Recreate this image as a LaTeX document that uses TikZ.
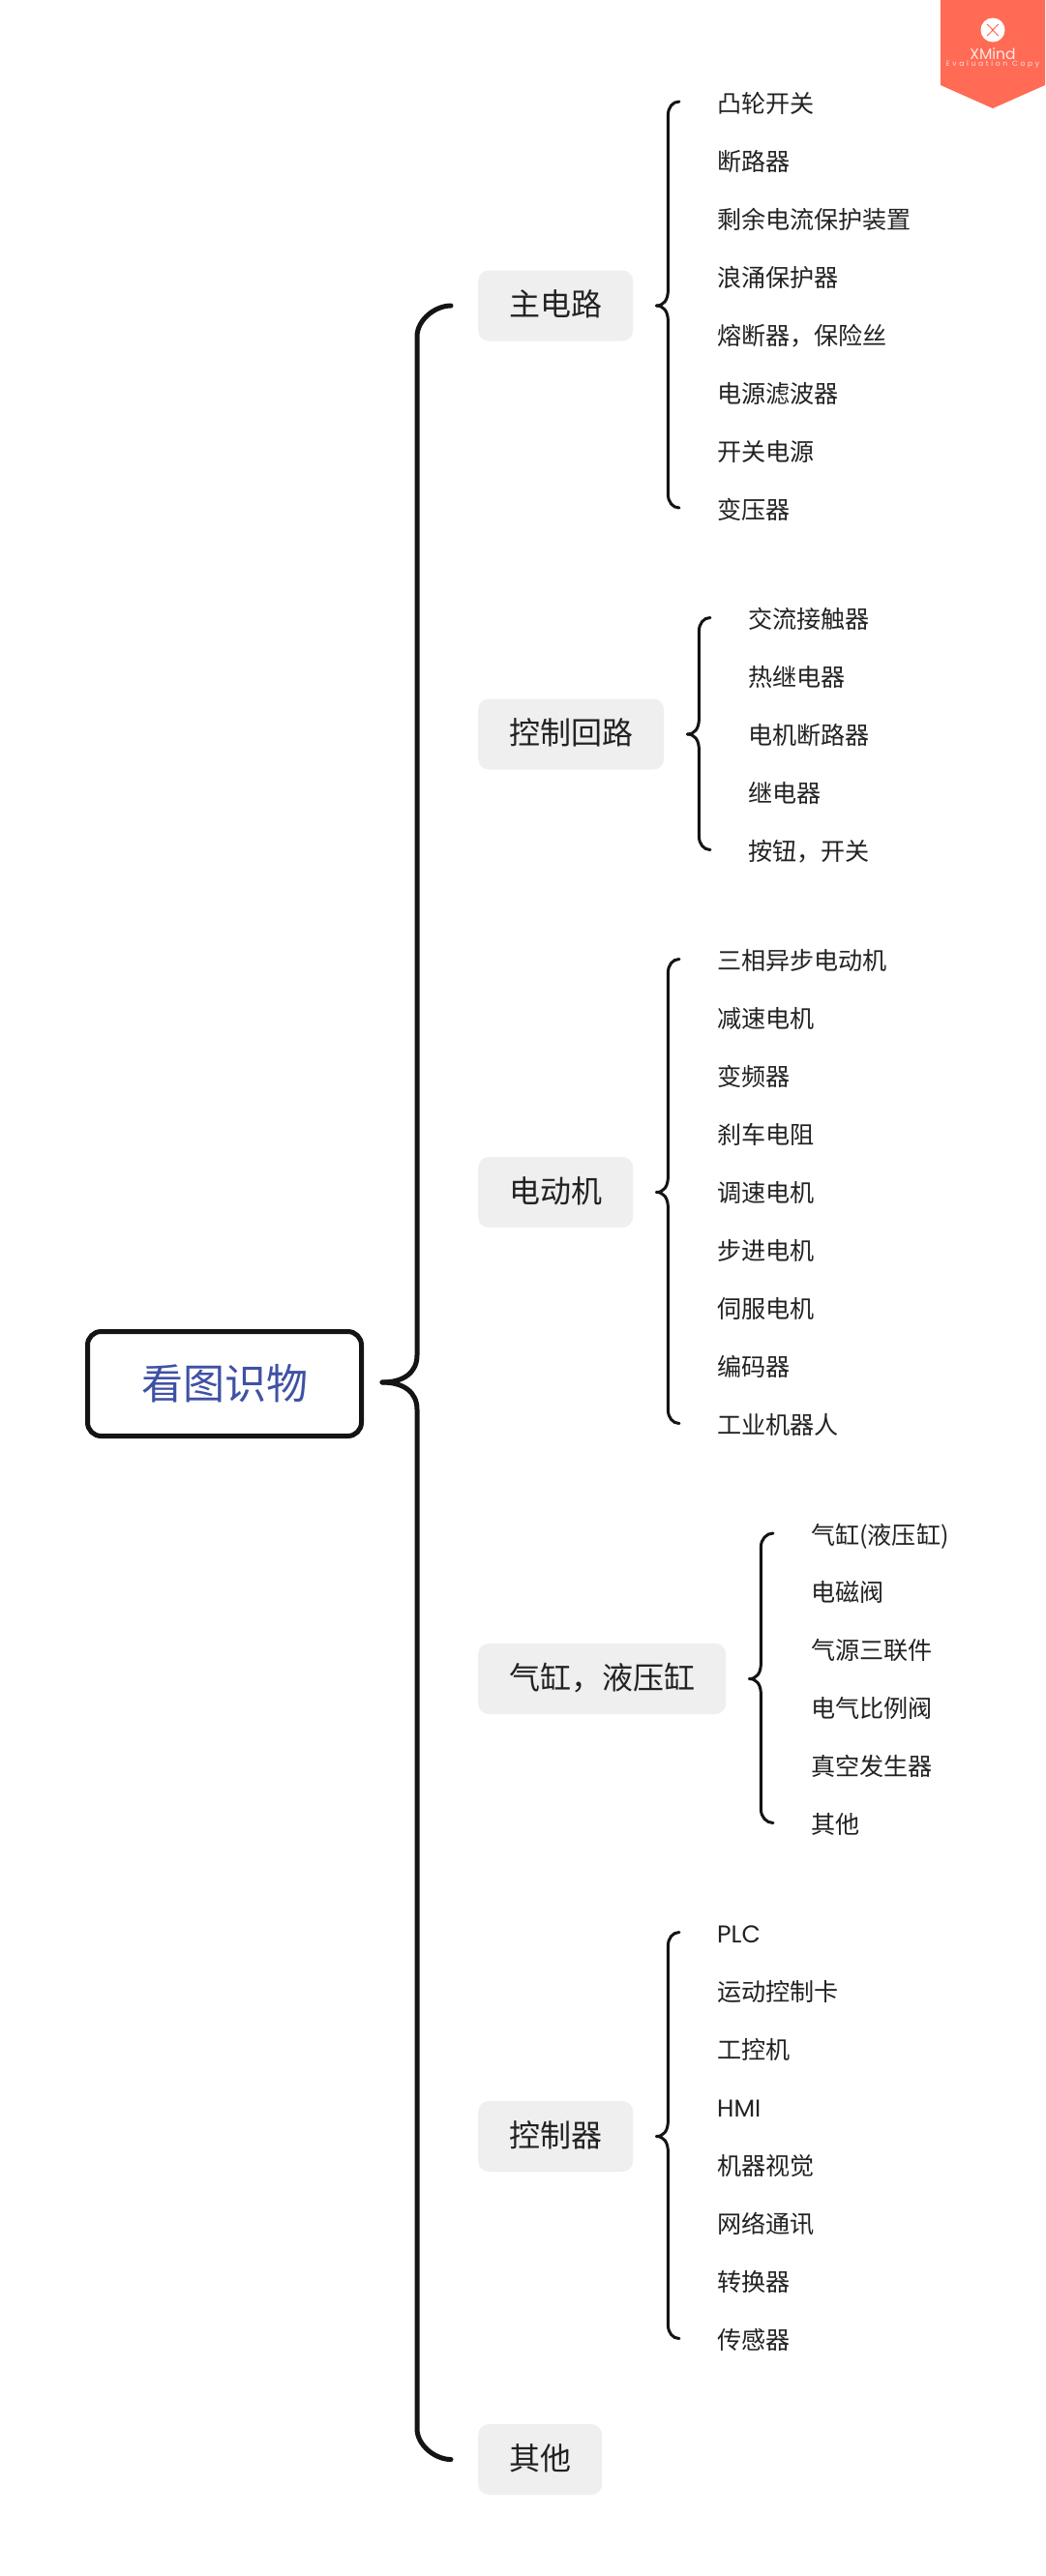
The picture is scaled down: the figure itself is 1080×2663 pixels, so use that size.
\documentclass[tikz,border=0pt]{standalone}
\usepackage{fontspec}
\setmainfont{Noto Sans CJK SC}
\newfontfamily\popfont{Poppins}
\newfontfamily\popspaced[LetterSpace=35]{Poppins}
\usetikzlibrary{calc}
\definecolor{inkc}{HTML}{222222}
\definecolor{bluec}{HTML}{3F51A5}
\definecolor{boxc}{HTML}{EFEFEF}
\definecolor{badgec}{HTML}{FF6B55}
\tikzset{
  x=1pt,y=-1pt,
  rootbox/.style={draw=black!92,line width=5pt,rounded corners=14pt,fill=white,minimum width=283pt,minimum height=108pt,inner sep=0pt,text=bluec,font=\fontsize{43}{50}\selectfont},
  topic/.style={fill=boxc,rounded corners=11pt,anchor=west,minimum height=73pt,inner xsep=32pt,inner ysep=0pt,text=inkc,text height=26pt,text depth=5pt,font=\fontsize{32}{36}\selectfont},
  leaf/.style={anchor=west,inner sep=0pt,text=inkc,text height=22pt,text depth=3pt,font=\fontsize{25.1}{30}\selectfont},
  mainline/.style={draw=black!92,line width=5pt,line cap=round},
  subline/.style={draw=black!92,line width=3pt,line cap=round},
}
% style, tip, end, spine offset, direction, tip bend, end bend
\newcommand{\bracearm}[7]{%
  \coordinate (sa) at ($(#2)+(#4,0)$);
  \coordinate (sb) at ($(#3)+(0,-#5*#7)$);
  \draw[#1] (#2) .. controls ($(#2)+(0.6*#4,0)$) and ($(#2)+(#4,0.35*#5*#6)$) .. ($(#2)+(#4,#5*#6)$)
    -- (sa |- sb) .. controls ($(sa |- sb)+(0,0.55*#5*#7)$) and ($(#3)+(-0.5*#7,0)$) .. (#3);
}
\begin{document}
\begin{tikzpicture}
\useasboundingbox (0,0) rectangle (1080,2663);
\fill[white] (0,0) rectangle (1080,2663);

% badge
\fill[badgec] (972,0) -- (1080,0) -- (1080,88) -- (1026,112) -- (972,88) -- cycle;
\fill[white] (1026,31) circle (12.5);
\draw[badgec,line width=1pt] (1020,25) .. controls (1025,29) and (1027,33) .. (1032,37);
\draw[badgec,line width=1pt] (1032,25) .. controls (1027,29) and (1025,33) .. (1020,37);
\node[inner sep=0pt,text=white!85!badgec,font=\popfont\fontsize{15.5}{18}\selectfont] (wm) at (1026,56) {XMind};
\node[inner sep=0pt,text=white!80!badgec,font=\popspaced\fontsize{7.6}{9}\selectfont] (wm2) at (1026,67) {Evaluation Copy};

% root
\node[rootbox] (root) at (232,1430.5) {看图识物};

% topics
\node[topic] (t1) at (494,316) {主电路};
\node[topic] (t2) at (494,759) {控制回路};
\node[topic] (t3) at (494,1232.5) {电动机};
\node[topic] (t4) at (494,1735.5) {气缸，液压缸};
\node[topic] (t5) at (494,2208.5) {控制器};
\node[topic] (t6) at (494,2542.5) {其他};

% leaves group 1
\foreach \i/\s in {0/凸轮开关,1/断路器,2/剩余电流保护装置,3/浪涌保护器,4/熔断器，保险丝,5/电源滤波器,6/开关电源,7/变压器}
  \node[leaf] (a\i) at (741,106.5+60*\i) {\s};
% leaves group 2
\foreach \i/\s in {0/交流接触器,1/热继电器,2/电机断路器,3/继电器,4/按钮，开关}
  \node[leaf] (b\i) at (773,640+60*\i) {\s};
% leaves group 3
\foreach \i/\s in {0/三相异步电动机,1/减速电机,2/变频器,3/刹车电阻,4/调速电机,5/步进电机,6/伺服电机,7/编码器,8/工业机器人}
  \node[leaf] (c\i) at (741,993+60*\i) {\s};
% leaves group 4
\foreach \i/\s in {0/气缸(液压缸),1/电磁阀,2/气源三联件,3/电气比例阀,4/真空发生器,5/其他}
  \node[leaf] (d\i) at (838,1586.5+59.9*\i) {\s};
% leaves group 5
\foreach \i/\s in {0/{\popfont PLC},1/运动控制卡,2/工控机,3/{\popfont HMI},4/机器视觉,5/网络通讯,6/转换器,7/传感器}
  \node[leaf] (e\i) at (741,1999+60*\i) {\s};

% main brace
\coordinate (rt) at ($(root.east)+(19,-1.5)$);
\coordinate (m1) at ($(t1.west)+(-28,0)$);
\coordinate (m6) at ($(t6.west)+(-28,0)$);
\bracearm{mainline}{rt}{m1}{36}{-1}{28}{32}
\bracearm{mainline}{rt}{m6}{36}{1}{28}{32}

% sub braces
\coordinate (ta) at ($(t1.east)+(24,0)$);
\coordinate (a1e) at ($(a0.west)+(-39,-1.5)$);
\coordinate (a2e) at ($(a7.west)+(-39,-1.5)$);
\bracearm{subline}{ta}{a1e}{12}{-1}{16}{14}
\bracearm{subline}{ta}{a2e}{12}{1}{16}{14}

\coordinate (tb) at ($(t2.east)+(24,0)$);
\coordinate (b1e) at ($(b0.west)+(-39,-1.5)$);
\coordinate (b2e) at ($(b4.west)+(-39,-1.5)$);
\bracearm{subline}{tb}{b1e}{12}{-1}{16}{14}
\bracearm{subline}{tb}{b2e}{12}{1}{16}{14}

\coordinate (tc) at ($(t3.east)+(24,0)$);
\coordinate (c1e) at ($(c0.west)+(-39,-1.5)$);
\coordinate (c2e) at ($(c8.west)+(-39,-1.5)$);
\bracearm{subline}{tc}{c1e}{12}{-1}{16}{14}
\bracearm{subline}{tc}{c2e}{12}{1}{16}{14}

\coordinate (td) at ($(t4.east)+(24,0)$);
\coordinate (d1e) at ($(d0.west)+(-39,-1.5)$);
\coordinate (d2e) at ($(d5.west)+(-39,-1.5)$);
\bracearm{subline}{td}{d1e}{12}{-1}{16}{14}
\bracearm{subline}{td}{d2e}{12}{1}{16}{14}

\coordinate (te) at ($(t5.east)+(24,0)$);
\coordinate (e1e) at ($(e0.west)+(-39,-1.5)$);
\coordinate (e2e) at ($(e7.west)+(-39,-1.5)$);
\bracearm{subline}{te}{e1e}{12}{-1}{16}{14}
\bracearm{subline}{te}{e2e}{12}{1}{16}{14}
\end{tikzpicture}
\end{document}
